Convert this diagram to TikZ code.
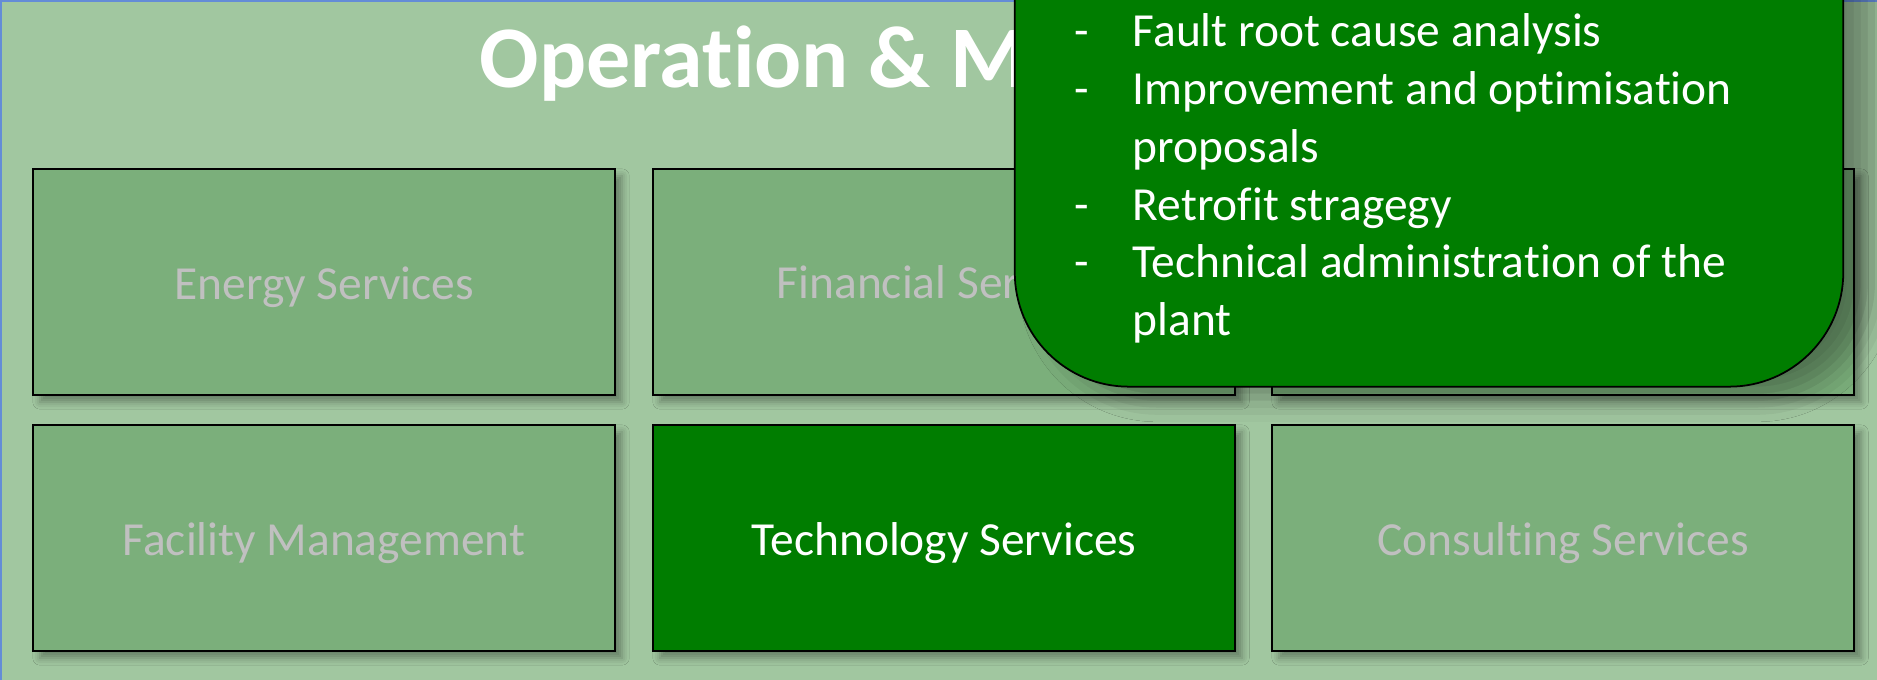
\documentclass[tikz,border=0pt]{standalone}
\usepackage{fontspec}
\setmainfont{Carlito}[Ligatures={NoCommon,NoContextual,NoRequired}]
\usetikzlibrary{shadows.blur}

\definecolor{pagegreen}{RGB}{161,199,160}
\definecolor{boxgreen}{RGB}{123,175,123}
\definecolor{deepgreen}{RGB}{0,125,0}
\definecolor{labelgray}{RGB}{192,192,192}
\definecolor{frameblue}{RGB}{100,140,215}

\begin{document}
\begin{tikzpicture}[x=0.01cm, y=-0.01cm,
  service/.style={draw=black, line width=0.7pt, fill=boxgreen, minimum width=5.82cm, minimum height=2.26cm, inner sep=0pt, text height=12pt, text depth=2.3pt, text=labelgray, font=\fontsize{13.5}{16.4}\selectfont, blur shadow={shadow xshift=2pt, shadow yshift=-2pt, shadow blur radius=2pt, shadow opacity=35}},
  activeservice/.style={service, fill=deepgreen, text=white},
  callout/.style={draw=black, line width=0.5pt, fill=deepgreen, rounded corners=1.14cm, minimum width=8.28cm, minimum height=5.87cm, inner sep=0pt, blur shadow={shadow xshift=8pt, shadow yshift=-3pt, shadow blur radius=7pt, shadow opacity=35}}]
\useasboundingbox (0,0) rectangle (1877,680);
\clip (0,0) rectangle (1877,680);

% Background
\fill[pagegreen] (0,0) rectangle (1877,680);
\draw[frameblue, line width=0.6pt] (1,680) -- (1,1) -- (1877,1);

% Title
\node[anchor=base west, inner sep=0pt, text=white, font=\fontsize{25}{30}\selectfont\bfseries] (title) at (479,88) {Operation \& Ma};

% Service blocks, top row
\node[service] (energy) at (324,282) {Energy Services};
\node[service] (financial) at (944,282) {};
\node[anchor=base west, inner sep=0pt, text=labelgray, font=\fontsize{13.5}{16.4}\selectfont] (finlabel) at (776,299) {Financial Ser};
\node[service] (hidden) at (1563,282) {};

% Service blocks, bottom row
\node[service] (facility) at (324,538) {Facility Management};
\node[activeservice] (technology) at (944,538) {Technology Services};
\node[service] (consulting) at (1563,538) {Consulting Services};

% Callout with the tasks
\node[callout] (note) at (1429,93) {};
\node[anchor=base west, inner sep=0pt, text=white, font=\fontsize{13.5}{16.4}\selectfont] (tasks) at (1074,47) {%
  \begin{tabular}[t]{@{}p{0.58cm}@{}l@{}}
  - & Fault root cause analysis\\
  - & Improvement and optimisation\\
    & proposals\\
  - & Retrofit stragegy\\
  - & Technical administration of the\\
    & plant
  \end{tabular}};

\end{tikzpicture}
\end{document}
